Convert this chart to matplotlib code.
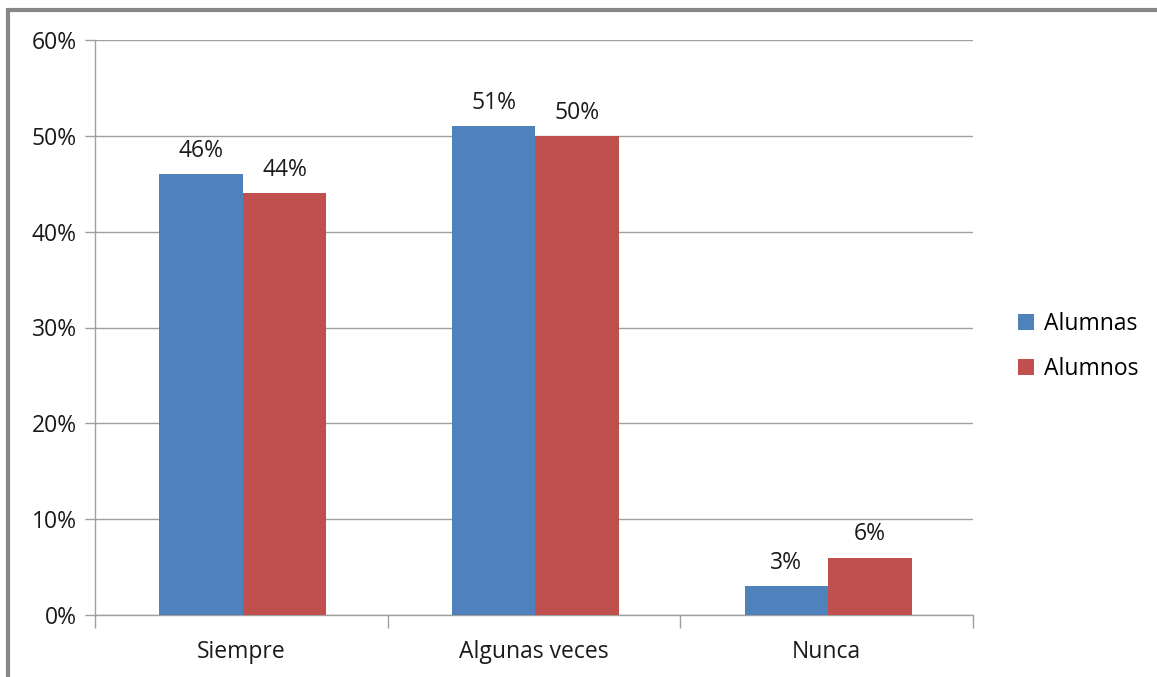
import matplotlib.pyplot as plt
import numpy as np
from matplotlib.patches import Rectangle

# --- Data ---
categories = ['Siempre', 'Algunas veces', 'Nunca']
alumnas = [46, 51, 3]
alumnos = [44, 50, 6]
series_names = ['Alumnas', 'Alumnos']
yticks = [0, 10, 20, 30, 40, 50, 60]

blue = '#4F81BD'
red = '#C0504D'
grid_col = '#A0A0A0'
txt_col = '#1a1a1a'
fs = 16.5

plt.rcParams['font.family'] = ['Open Sans', 'DejaVu Sans']

fig = plt.figure(figsize=(11.57, 6.77), dpi=100)
ax = fig.add_axes([95 / 1157, 1 - 615 / 677, (973 - 95) / 1157, (615 - 40) / 677])

x = np.arange(len(categories)) + 0.005
w = 0.285
b1 = ax.bar(x - w / 2, alumnas, w, color=blue, label=series_names[0], zorder=3)
b2 = ax.bar(x + w / 2, alumnos, w, color=red, label=series_names[1], zorder=3)

for bars in (b1, b2):
    for r in bars:
        ax.annotate(f'{r.get_height():.0f}%', (r.get_x() + r.get_width() / 2, r.get_height()),
                    xytext=(0, 8), textcoords='offset points', ha='center', va='bottom',
                    fontsize=fs, color=txt_col)

ax.set_xlim(-0.5, len(categories) - 0.5)
ax.set_ylim(0, 60)
ax.set_yticks(yticks)
ax.set_yticklabels([f'{v}%' for v in yticks], fontsize=fs, color=txt_col)
ax.yaxis.grid(True, color=grid_col, linewidth=1, zorder=0)

# category labels centred, tick marks at boundaries
ax.set_xticks(np.arange(-0.5, len(categories), 1))
ax.set_xticklabels([])
ax.set_xticks(np.arange(len(categories)), minor=True)
ax.set_xticklabels(categories, minor=True, fontsize=fs, color=txt_col)
ax.tick_params(axis='x', which='minor', length=0, pad=18)
ax.tick_params(axis='x', which='major', length=9, color=grid_col, width=1)
ax.tick_params(axis='y', length=7, color=grid_col, width=1, pad=6)

for s in ['top', 'right']:
    ax.spines[s].set_visible(False)
for s in ['left', 'bottom']:
    ax.spines[s].set_color(grid_col)
    ax.spines[s].set_linewidth(1)

ax.legend(loc='center left', bbox_to_anchor=(1.051, 0.467), bbox_transform=ax.transAxes,
          frameon=False, fontsize=fs, borderaxespad=0, borderpad=0,
          handlelength=0.7, handleheight=0.7, handletextpad=0.45, labelspacing=0.95)

# outer chart border (cut at right/bottom)
fig.patches.append(Rectangle((8 / 1157, -0.1), 1.2, 1 - 10 / 677 + 0.1, transform=fig.transFigure,
                             fill=False, edgecolor='#878787', linewidth=3))

fig.savefig('out.png', dpi=100)
